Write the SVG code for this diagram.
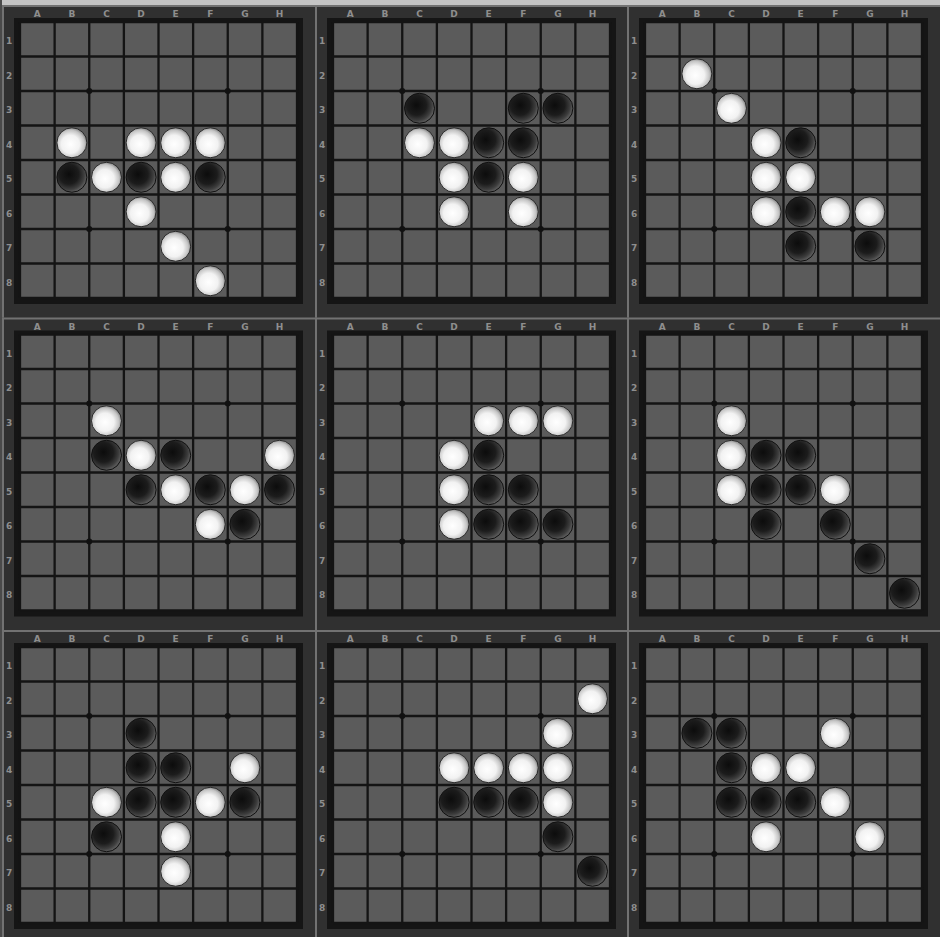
<svg xmlns="http://www.w3.org/2000/svg" xmlns:xlink="http://www.w3.org/1999/xlink" width="940" height="937" viewBox="0 0 940 937">
<style>
.lbl{font-family:"DejaVu Sans",sans-serif;font-size:9px;font-weight:bold;fill:#8e8e8e;text-anchor:middle}
.gl{stroke:#141414;stroke-width:2.3;fill:none}
</style>
<defs>
<radialGradient id="gw" cx="45%" cy="55%" r="55%">
<stop offset="0" stop-color="#ffffff"/>
<stop offset="0.55" stop-color="#f2f2f2"/>
<stop offset="0.85" stop-color="#c4c4c4"/>
<stop offset="1" stop-color="#8c8c8c"/>
</radialGradient>
<radialGradient id="gb" cx="40%" cy="40%" r="60%">
<stop offset="0" stop-color="#0c0c0c"/>
<stop offset="0.55" stop-color="#1c1c1c"/>
<stop offset="0.85" stop-color="#3e3e3e"/>
<stop offset="1" stop-color="#5a5a5a"/>
</radialGradient>
<circle id="w" r="15" fill="url(#gw)" stroke="#2a2a2a" stroke-width="1"/>
<circle id="b" r="15" fill="url(#gb)" stroke="#101010" stroke-width="1"/>
<g id="frame">
<rect x="-18" y="-17" width="313" height="313" fill="#303030"/>
<rect x="-18" y="-17" width="313" height="2" fill="#727272"/>
<rect x="-18" y="-17" width="2" height="313" fill="#727272"/>
<rect x="-6" y="-4" width="289" height="286" fill="#151515"/>
<rect x="0" y="0" width="277" height="276" fill="#5b5b5b"/>
<path class="gl" d="M0 0V276M34.625 0V276M69.25 0V276M103.875 0V276M138.5 0V276M173.125 0V276M207.75 0V276M242.375 0V276M277 0V276M0 0H277M0 34.5H277M0 69H277M0 103.5H277M0 138H277M0 172.5H277M0 207H277M0 241.5H277M0 276H277"/>
<circle cx="69.25" cy="69" r="3" fill="#111"/>
<circle cx="207.75" cy="69" r="3" fill="#111"/>
<circle cx="69.25" cy="207" r="3" fill="#111"/>
<circle cx="207.75" cy="207" r="3" fill="#111"/>
<text class="lbl" x="17.3" y="-5">A</text>
<text class="lbl" x="51.9" y="-5">B</text>
<text class="lbl" x="86.5" y="-5">C</text>
<text class="lbl" x="121.1" y="-5">D</text>
<text class="lbl" x="155.7" y="-5">E</text>
<text class="lbl" x="190.3" y="-5">F</text>
<text class="lbl" x="224.9" y="-5">G</text>
<text class="lbl" x="259.5" y="-5">H</text>
<text class="lbl" x="-11" y="22">1</text>
<text class="lbl" x="-11" y="56.5">2</text>
<text class="lbl" x="-11" y="91">3</text>
<text class="lbl" x="-11" y="125.5">4</text>
<text class="lbl" x="-11" y="160">5</text>
<text class="lbl" x="-11" y="194.5">6</text>
<text class="lbl" x="-11" y="229">7</text>
<text class="lbl" x="-11" y="263.5">8</text>
</g>
</defs>
<rect width="940" height="937" fill="#2c2c2c"/>
<rect width="940" height="5" fill="#c4c4c4"/>
<rect width="2" height="937" fill="#4a4a4a"/>

<g id="board1" transform="translate(20,22)">
<use href="#frame"/>
<use href="#w" x="51.9" y="120.75"/><use href="#w" x="121.1" y="120.75"/><use href="#w" x="155.7" y="120.75"/><use href="#w" x="190.3" y="120.75"/>
<use href="#b" x="51.9" y="155.25"/><use href="#w" x="86.5" y="155.25"/><use href="#b" x="121.1" y="155.25"/><use href="#w" x="155.7" y="155.25"/><use href="#b" x="190.3" y="155.25"/>
<use href="#w" x="121.1" y="189.75"/><use href="#w" x="155.7" y="224.25"/><use href="#w" x="190.3" y="258.75"/>
</g>

<g id="board2" transform="translate(333,22)">
<use href="#frame"/>
<use href="#b" x="86.5" y="86.25"/><use href="#b" x="190.3" y="86.25"/><use href="#b" x="224.9" y="86.25"/>
<use href="#w" x="86.5" y="120.75"/><use href="#w" x="121.1" y="120.75"/><use href="#b" x="155.7" y="120.75"/><use href="#b" x="190.3" y="120.75"/>
<use href="#w" x="121.1" y="155.25"/><use href="#b" x="155.7" y="155.25"/><use href="#w" x="190.3" y="155.25"/>
<use href="#w" x="121.1" y="189.75"/><use href="#w" x="190.3" y="189.75"/>
</g>

<g id="board3" transform="translate(645,22)">
<use href="#frame"/>
<use href="#w" x="51.9" y="51.75"/><use href="#w" x="86.5" y="86.25"/>
<use href="#w" x="121.1" y="120.75"/><use href="#b" x="155.7" y="120.75"/>
<use href="#w" x="121.1" y="155.25"/><use href="#w" x="155.7" y="155.25"/>
<use href="#w" x="121.1" y="189.75"/><use href="#b" x="155.7" y="189.75"/><use href="#w" x="190.3" y="189.75"/><use href="#w" x="224.9" y="189.75"/>
<use href="#b" x="155.7" y="224.25"/><use href="#b" x="224.9" y="224.25"/>
</g>

<g id="board4" transform="translate(20,334.5)">
<use href="#frame"/>
<use href="#w" x="86.5" y="86.25"/>
<use href="#b" x="86.5" y="120.75"/><use href="#w" x="121.1" y="120.75"/><use href="#b" x="155.7" y="120.75"/><use href="#w" x="259.5" y="120.75"/>
<use href="#b" x="121.1" y="155.25"/><use href="#w" x="155.7" y="155.25"/><use href="#b" x="190.3" y="155.25"/><use href="#w" x="224.9" y="155.25"/><use href="#b" x="259.5" y="155.25"/>
<use href="#w" x="190.3" y="189.75"/><use href="#b" x="224.9" y="189.75"/>
</g>

<g id="board5" transform="translate(333,334.5)">
<use href="#frame"/>
<use href="#w" x="155.7" y="86.25"/><use href="#w" x="190.3" y="86.25"/><use href="#w" x="224.9" y="86.25"/>
<use href="#w" x="121.1" y="120.75"/><use href="#b" x="155.7" y="120.75"/>
<use href="#w" x="121.1" y="155.25"/><use href="#b" x="155.7" y="155.25"/><use href="#b" x="190.3" y="155.25"/>
<use href="#w" x="121.1" y="189.75"/><use href="#b" x="155.7" y="189.75"/><use href="#b" x="190.3" y="189.75"/><use href="#b" x="224.9" y="189.75"/>
</g>

<g id="board6" transform="translate(645,334.5)">
<use href="#frame"/>
<use href="#w" x="86.5" y="86.25"/>
<use href="#w" x="86.5" y="120.75"/><use href="#b" x="121.1" y="120.75"/><use href="#b" x="155.7" y="120.75"/>
<use href="#w" x="86.5" y="155.25"/><use href="#b" x="121.1" y="155.25"/><use href="#b" x="155.7" y="155.25"/><use href="#w" x="190.3" y="155.25"/>
<use href="#b" x="121.1" y="189.75"/><use href="#b" x="190.3" y="189.75"/>
<use href="#b" x="224.9" y="224.25"/><use href="#b" x="259.5" y="258.75"/>
</g>

<g id="board7" transform="translate(20,647)">
<use href="#frame"/>
<use href="#b" x="121.1" y="86.25"/>
<use href="#b" x="121.1" y="120.75"/><use href="#b" x="155.7" y="120.75"/><use href="#w" x="224.9" y="120.75"/>
<use href="#w" x="86.5" y="155.25"/><use href="#b" x="121.1" y="155.25"/><use href="#b" x="155.7" y="155.25"/><use href="#w" x="190.3" y="155.25"/><use href="#b" x="224.9" y="155.25"/>
<use href="#b" x="86.5" y="189.75"/><use href="#w" x="155.7" y="189.75"/>
<use href="#w" x="155.7" y="224.25"/>
</g>

<g id="board8" transform="translate(333,647)">
<use href="#frame"/>
<use href="#w" x="259.5" y="51.75"/><use href="#w" x="224.9" y="86.25"/>
<use href="#w" x="121.1" y="120.75"/><use href="#w" x="155.7" y="120.75"/><use href="#w" x="190.3" y="120.75"/><use href="#w" x="224.9" y="120.75"/>
<use href="#b" x="121.1" y="155.25"/><use href="#b" x="155.7" y="155.25"/><use href="#b" x="190.3" y="155.25"/><use href="#w" x="224.9" y="155.25"/>
<use href="#b" x="224.9" y="189.75"/><use href="#b" x="259.5" y="224.25"/>
</g>

<g id="board9" transform="translate(645,647)">
<use href="#frame"/>
<use href="#b" x="51.9" y="86.25"/><use href="#b" x="86.5" y="86.25"/><use href="#w" x="190.3" y="86.25"/>
<use href="#b" x="86.5" y="120.75"/><use href="#w" x="121.1" y="120.75"/><use href="#w" x="155.7" y="120.75"/>
<use href="#b" x="86.5" y="155.25"/><use href="#b" x="121.1" y="155.25"/><use href="#b" x="155.7" y="155.25"/><use href="#w" x="190.3" y="155.25"/>
<use href="#w" x="121.1" y="189.75"/><use href="#w" x="224.9" y="189.75"/>
</g>
</svg>
